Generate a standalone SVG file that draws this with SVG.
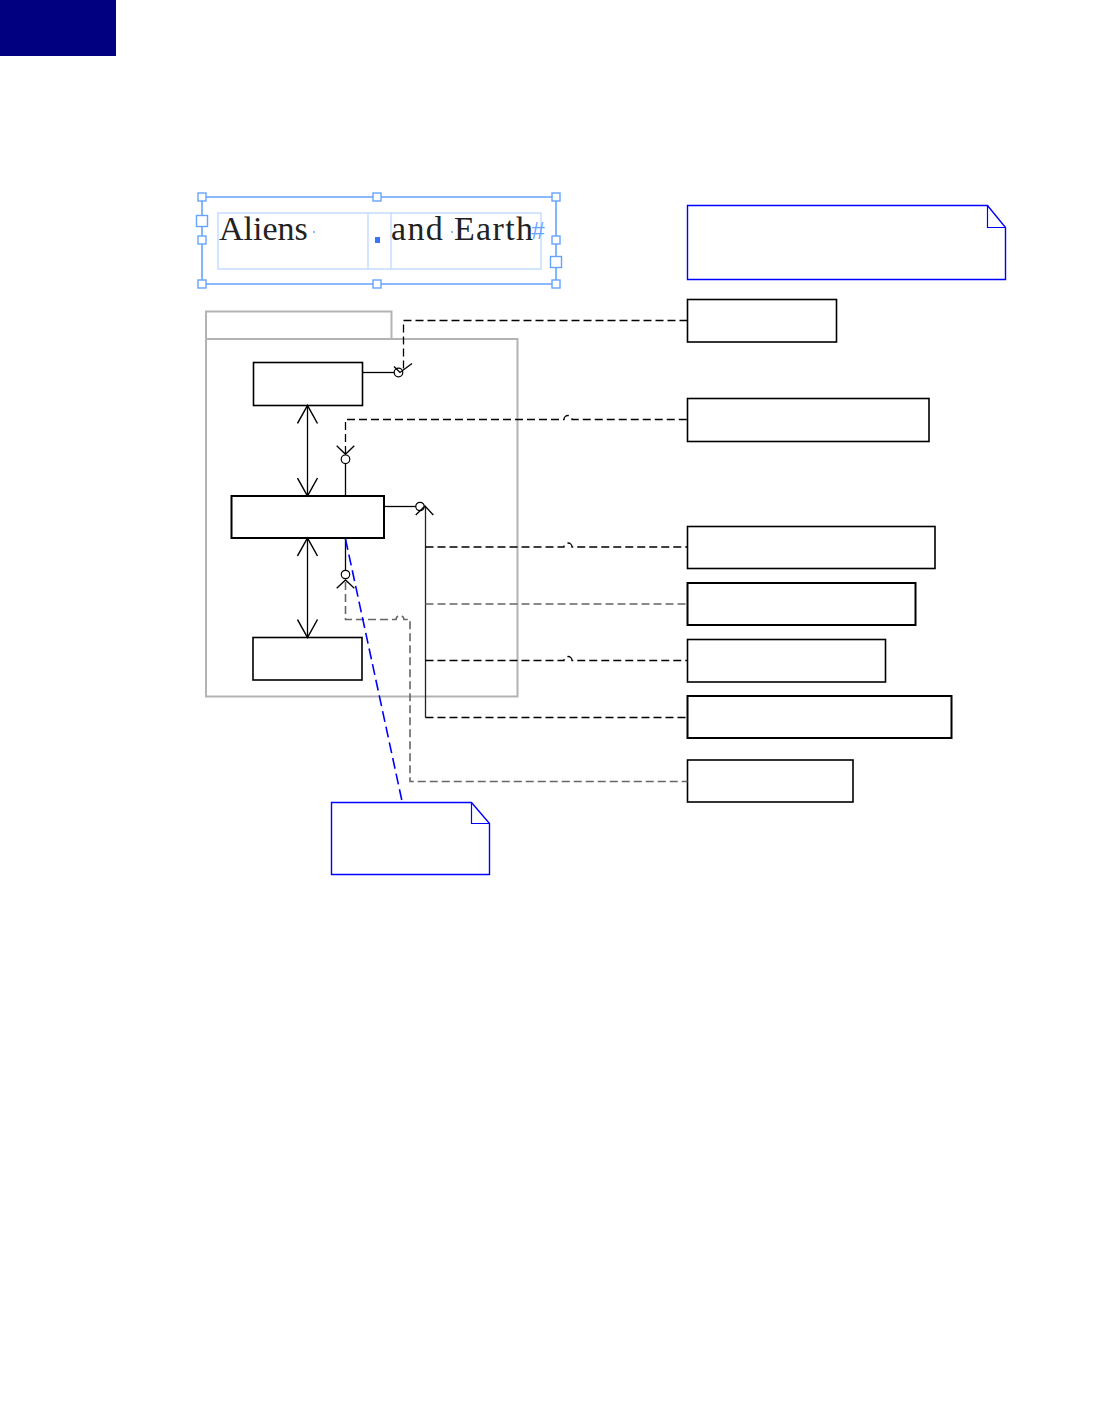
<svg xmlns="http://www.w3.org/2000/svg" width="1114" height="1414" viewBox="0 0 1114 1414">
<style>
.box{fill:#fff;stroke:#000;stroke-width:1.6}
.note{fill:#fff;stroke:#0000ff;stroke-width:1.4}
.fold{fill:none;stroke:#0000ff;stroke-width:1.2}
.pkg{fill:none;stroke:#b3b3b3;stroke-width:2}
.solid{fill:none;stroke:#000;stroke-width:1.3}
.dash{fill:none;stroke:#000;stroke-width:1.3;stroke-dasharray:8 4}
.dashg{fill:none;stroke:#666;stroke-width:1.6;stroke-dasharray:8 4}
.blue{fill:none;stroke:#0000ff;stroke-width:1.6;stroke-dasharray:11 5}
.sel{fill:none;stroke:#66a3ff;stroke-width:1.6}
.inner{fill:none;stroke:#b8d4ff;stroke-width:1.2}
.h{fill:#fff;stroke:#66a3ff;stroke-width:1.4}
.ring{fill:#fff;stroke:#000;stroke-width:1.2}
.t{font-family:"Liberation Serif",serif;font-size:34px;fill:#222}
</style>
<defs>
<marker id="vee" viewBox="-20 -11 22 22" refX="0" refY="0" markerWidth="22" markerHeight="22" markerUnits="userSpaceOnUse" orient="auto-start-reverse">
<path d="M-18,-10 L0,0 L-18,10" fill="none" stroke="#000" stroke-width="1.5"/>
</marker>
</defs>
<rect x="0" y="0" width="116" height="56" fill="#000080"/>

<g id="title-frame">
<path class="sel" d="M202,197 H556 V284 H202 Z"/>
<rect class="inner" x="218" y="213" width="323" height="56"/>
<line class="inner" x1="368" y1="213" x2="368" y2="269"/>
<line class="inner" x1="391" y1="213" x2="391" y2="269"/>
<rect class="h" x="198" y="193" width="8" height="8"/>
<rect class="h" x="373" y="193" width="8" height="8"/>
<rect class="h" x="552" y="193" width="8" height="8"/>
<rect class="h" x="198" y="280" width="8" height="8"/>
<rect class="h" x="373" y="280" width="8" height="8"/>
<rect class="h" x="552" y="280" width="8" height="8"/>
<rect class="h" x="196.5" y="215.5" width="11" height="11"/>
<rect class="h" x="198" y="236" width="8" height="8"/>
<rect class="h" x="552" y="236" width="8" height="8"/>
<rect class="h" x="550.5" y="256.5" width="11" height="11"/>
<text class="t" x="219" y="240">Aliens</text>
<text class="t" x="391" y="240" textLength="142" lengthAdjust="spacing">and Earth</text>
<circle cx="314" cy="232" r="1" fill="#66a3ff"/>
<circle cx="452" cy="232" r="1" fill="#66a3ff"/>
<rect x="375" y="237" width="5" height="6" fill="#3377ff"/>
<text x="531" y="239" font-family="Liberation Sans, sans-serif" font-size="24" font-style="italic" fill="#66a3ff">#</text>
</g>

<g id="package">
<rect class="pkg" x="206" y="311.5" width="185.5" height="27.5"/>
<rect class="pkg" x="206" y="339" width="311.5" height="357.5"/>
</g>

<g id="box-a"><rect class="box" x="253.5" y="362.5" width="109" height="43"/></g>
<g id="box-b"><rect class="box" x="231.5" y="496" width="152.5" height="42" style="stroke-width:2"/></g>
<g id="box-c"><rect class="box" x="253" y="637.5" width="109" height="42.5"/></g>

<g id="note-top">
<path class="note" d="M687.5,205.5 H987.5 L1005.5,227.5 V279.5 H687.5 Z"/>
<path class="fold" d="M987.5,205.5 V227.5 H1005.5"/>
</g>
<g id="note-bottom">
<path class="note" d="M331.5,802.5 H471.5 L489.5,823.5 V874.5 H331.5 Z"/>
<path class="fold" d="M471.5,802.5 V823.5 H489.5"/>
</g>

<g id="box-1"><rect class="box" x="687.5" y="299.5" width="149" height="42.5"/></g>
<g id="box-2"><rect class="box" x="687.5" y="398.5" width="241.5" height="43"/></g>
<g id="box-3"><rect class="box" x="687.5" y="526.5" width="247.5" height="42"/></g>
<g id="box-4"><rect class="box" x="687.5" y="583" width="228" height="42" style="stroke-width:2"/></g>
<g id="box-5"><rect class="box" x="687.5" y="639.5" width="198" height="42.5"/></g>
<g id="box-6"><rect class="box" x="687.5" y="696" width="264" height="42" style="stroke-width:2"/></g>
<g id="box-7"><rect class="box" x="687.5" y="760" width="165.5" height="42"/></g>

<g id="connectors">
<line class="solid" x1="307.5" y1="405.5" x2="307.5" y2="496" marker-start="url(#vee)" marker-end="url(#vee)"/>
<line class="solid" x1="307.5" y1="538" x2="307.5" y2="637.5" marker-start="url(#vee)" marker-end="url(#vee)"/>

<line class="solid" x1="362.5" y1="372.5" x2="394" y2="372.5"/>
<circle class="ring" cx="398.5" cy="372.5" r="4.3"/>
<path class="dash" d="M687.5,320.5 H403.5 V369"/>
<polyline class="solid" points="394,366.5 400,372.5 412,363.5"/>

<line class="solid" x1="345.5" y1="496" x2="345.5" y2="463.5"/>
<circle class="ring" cx="345.5" cy="459.3" r="4.3"/>
<polyline class="solid" points="336.7,445.7 345.5,454.3 354.3,445.7"/>
<path class="dash" d="M345.5,454 V419.5 H564 A4,4 0 0 1 572,419.5 H687.5"/>

<line class="solid" x1="384" y1="506.5" x2="416" y2="506.5"/>
<circle class="ring" cx="420" cy="506.5" r="4.2"/>
<line x1="425.5" y1="507" x2="425.5" y2="717.5" stroke="#222" stroke-width="1.3"/>
<polyline class="solid" points="415.7,515 425,506 433.3,515"/>
<path class="dash" d="M425.5,547 H564 A4,4 0 0 1 572,547 H687.5"/>
<path class="dashg" d="M425.5,604 H687.5"/>
<path class="dash" d="M425.5,660.5 H564 A4,4 0 0 1 572,660.5 H687.5"/>
<path class="dash" d="M425.5,717.5 H687.5"/>

<line class="solid" x1="345.5" y1="538" x2="345.5" y2="570.5"/>
<circle class="ring" cx="345.5" cy="574.5" r="4.2"/>
<polyline class="solid" points="336.7,588.3 345.5,580 354.3,588.3"/>
<path class="dashg" d="M345.5,582 V619.5 H396 A4,4 0 0 1 404,619.5 H410 V781.5 H687.5"/>

<line class="blue" x1="345.5" y1="539" x2="402.3" y2="802.5"/>
</g>
</svg>
